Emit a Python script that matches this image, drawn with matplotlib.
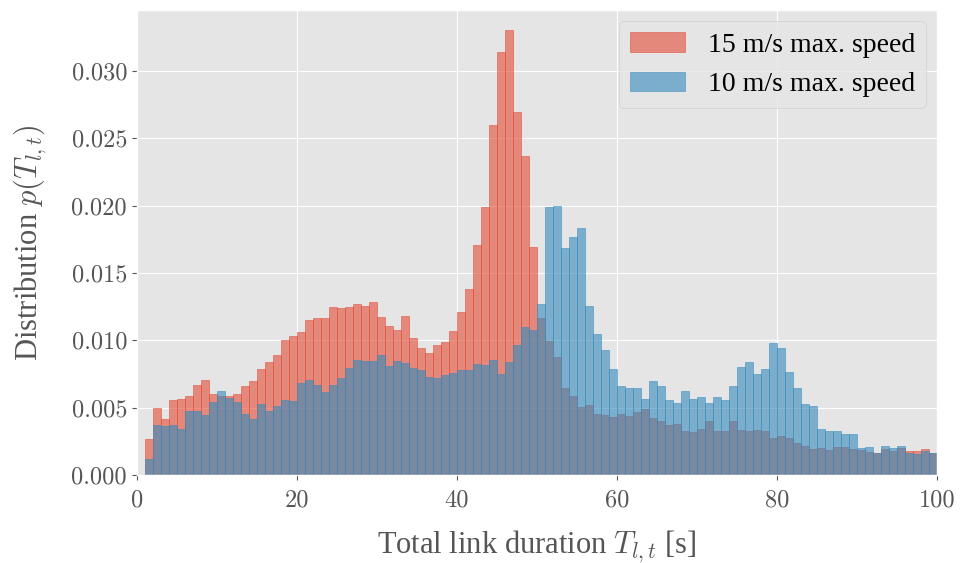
import numpy as np
import matplotlib
matplotlib.use("Agg")
import matplotlib.pyplot as plt

# bin left edges (1 s wide bins from 1 to 100 s)
bin_left = np.arange(1, 100)

# 15 m/s max. speed
p_15 = [0.00265, 0.00498, 0.00415, 0.00558, 0.00565, 0.00588, 0.0067, 0.00708, 0.00603, 0.0059,
        0.00585, 0.00603, 0.00663, 0.0070, 0.0079, 0.00843, 0.00888, 0.0100, 0.0103, 0.0106,
        0.0115, 0.01165, 0.01165, 0.01248, 0.0124, 0.01248, 0.0127, 0.01255, 0.01285, 0.01173,
        0.0111, 0.0108, 0.0118, 0.01015, 0.0094, 0.0091, 0.00963, 0.00985, 0.01068, 0.01207,
        0.01378, 0.01705, 0.01987, 0.02597, 0.03139, 0.03302, 0.02693, 0.02366, 0.0169, 0.01163,
        0.00992, 0.0088, 0.0065, 0.0059, 0.00509, 0.00524, 0.00457, 0.0045, 0.00435, 0.00457,
        0.00442, 0.00472, 0.00494, 0.00427, 0.00405, 0.00375, 0.00383, 0.00331, 0.00323, 0.00345,
        0.00405, 0.00331, 0.00331, 0.00405, 0.00338, 0.00331, 0.00338, 0.00331, 0.00279, 0.00293,
        0.00279, 0.00241, 0.00219, 0.00197, 0.00204, 0.00189, 0.00212, 0.00212, 0.00197, 0.00189,
        0.00175, 0.00167, 0.00197, 0.00182, 0.00204, 0.00182, 0.00182, 0.00197, 0.00167]

# 10 m/s max. speed
p_10 = [0.00123, 0.0037, 0.00363, 0.0037, 0.0034, 0.00475, 0.00475, 0.00445, 0.00543, 0.00627,
        0.00573, 0.00543, 0.00453, 0.00415, 0.00528, 0.00475, 0.00513, 0.00558, 0.0055, 0.00685,
        0.00708, 0.0067, 0.00618, 0.0067, 0.00723, 0.00798, 0.00858, 0.0085, 0.0085, 0.00888,
        0.00813, 0.0085, 0.00835, 0.00798, 0.00783, 0.0073, 0.00723, 0.00745, 0.0076, 0.00783,
        0.00783, 0.00822, 0.00817, 0.00854, 0.00753, 0.0084, 0.00966, 0.0110, 0.0108, 0.01267,
        0.01988, 0.01995, 0.01683, 0.01765, 0.01832, 0.01252, 0.01044, 0.00932, 0.00791, 0.00665,
        0.0065, 0.0065, 0.00568, 0.00695, 0.00665, 0.00554, 0.00539, 0.00628, 0.00568, 0.00583,
        0.00539, 0.00583, 0.00554, 0.00658, 0.00806, 0.00836, 0.00747, 0.00791, 0.00984, 0.0094,
        0.00769, 0.0065, 0.00531, 0.00516, 0.00345, 0.00331, 0.00331, 0.00308, 0.00308, 0.00204,
        0.00212, 0.00167, 0.00219, 0.00204, 0.00219, 0.00167, 0.0016, 0.00182, 0.00167]

plt.style.use("ggplot")
plt.rcParams["font.family"] = ["Liberation Serif", "DejaVu Serif"]
plt.rcParams["mathtext.fontset"] = "cm"

fig = plt.figure(figsize=(9.63, 5.63), dpi=100)
ax = fig.add_axes([0.142, 0.156, 0.831, 0.826])

red = "#E24A33"
blue = "#348ABD"
ax.bar(bin_left, p_15, width=1, align="edge", color=red, alpha=0.6,
       edgecolor=red, linewidth=0.6, label="15 m/s max. speed")
ax.bar(bin_left, p_10, width=1, align="edge", color=blue, alpha=0.6,
       edgecolor=blue, linewidth=0.6, label="10 m/s max. speed")

ax.set_xlim(0, 100)
ax.set_ylim(0, 0.0345)
ax.set_yticks(np.arange(0, 0.031, 0.005))
ax.yaxis.set_major_formatter(matplotlib.ticker.FormatStrFormatter("%.3f"))
ax.tick_params(colors="#555555", labelcolor="#555555")
ax.tick_params(axis="x", pad=7)
for lbl in ax.get_xticklabels() + ax.get_yticklabels():
    lbl.set_fontfamily("cmr10")
    lbl.set_fontsize(17.5)

ax.set_xlabel(r"Total link duration $T_{l,t}$ [s]", fontsize=22, color="#555555", labelpad=12)
ax.set_ylabel(r"Distribution $p(T_{l,t})$", fontsize=22, color="#555555", labelpad=16)

leg = ax.legend(loc="upper right", fontsize=20, framealpha=0.8,
                handlelength=2.0, handleheight=0.7, borderaxespad=0.4)

fig.savefig("out.png", dpi=100)
